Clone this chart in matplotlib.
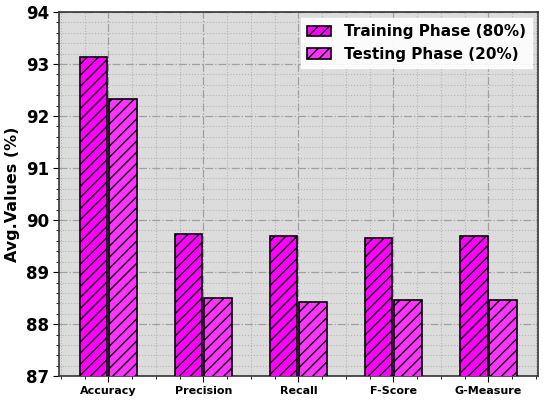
import numpy as np
import matplotlib.pyplot as plt
from matplotlib.ticker import MultipleLocator

metrics = ['Accuracy', 'Precision', 'Recall', 'F-Score', 'G-Measure']
train_vals = [93.13, 89.73, 89.69, 89.65, 89.69]
test_vals = [92.33, 88.50, 88.42, 88.46, 88.46]

plt.rcParams['hatch.linewidth'] = 1.0

fig = plt.figure(figsize=(5.5, 4.01), dpi=100)
ax = fig.add_axes([0.107, 0.062, 0.871, 0.908])
ax.set_facecolor('#dcdcdc')

x = np.arange(len(metrics))
w = 0.29
ax.bar(x - w / 2 - 0.01, train_vals, w, color='#ff00ff', edgecolor='black',
       linewidth=1.2, hatch='///', label='Training Phase (80%)', zorder=3)
ax.bar(x + w / 2 + 0.01, test_vals, w, color='#ff33ff', edgecolor='black',
       linewidth=1.2, hatch='///', label='Testing Phase (20%)', zorder=3)

ax.set_ylim(87, 94)
ax.set_xlim(-0.52, 4.52)
ax.set_xticks(x)
ax.set_xticklabels(metrics, fontsize=8, fontweight='bold')
ax.xaxis.set_minor_locator(MultipleLocator(0.25))
ax.yaxis.set_major_locator(MultipleLocator(1))
ax.yaxis.set_minor_locator(MultipleLocator(0.2))
for lab in ax.get_yticklabels():
    lab.set_fontweight('bold')
    lab.set_fontsize(12)
ax.tick_params(axis='both', which='major', length=4, pad=3)
ax.tick_params(axis='both', which='minor', length=2)
ax.set_ylabel('Avg.Values (%)', fontsize=11.5, fontweight='bold', labelpad=4)

ax.grid(True, which='major', linestyle='-.', color='#a0a0a0', linewidth=0.9, zorder=0)
ax.grid(True, which='minor', linestyle=':', color='#b4b4b4', linewidth=0.8, zorder=0)
ax.set_axisbelow(True)
for s in ax.spines.values():
    s.set_linewidth(1.2)
    s.set_color('#333333')

leg = ax.legend(loc='upper right', prop={'weight': 'bold', 'size': 11},
                fancybox=False, framealpha=0.9, edgecolor='white',
                handlelength=1.6, handletextpad=0.8, borderaxespad=0.4)

fig.savefig('out.png', dpi=100)
